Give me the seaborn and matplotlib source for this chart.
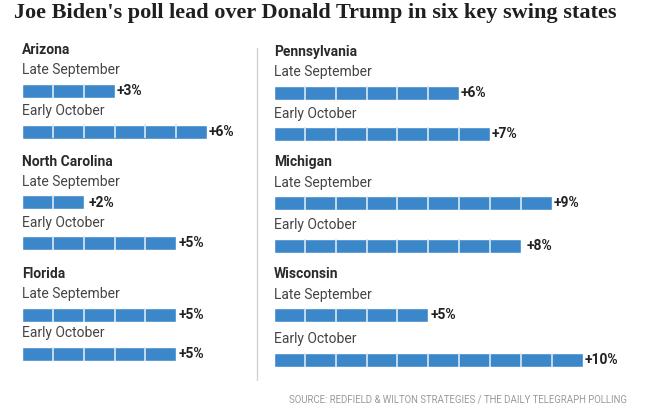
import matplotlib
matplotlib.use("Agg")
import matplotlib.pyplot as plt
from matplotlib.lines import Line2D
import seaborn as sns
import pandas as pd

# ---- data ----
title = "Joe Biden's poll lead over Donald Trump in six key swing states"
states = ["Arizona", "North Carolina", "Florida", "Pennsylvania", "Michigan", "Wisconsin"]
periods = ["Late September", "Early October"]
late_september = [3, 2, 5, 6, 9, 5]
early_october = [6, 5, 5, 7, 8, 10]
source = "SOURCE: REDFIELD & WILTON STRATEGIES / THE DAILY TELEGRAPH POLLING"

# ---- style / layout (pixels) ----
W, H = 660, 419
BLUE = "#3b87c9"
UNIT = 30.85          # pixels per percentage point
AX_W = 345
BAR_H = 14
col_x = [22, 22, 22, 274, 274, 274]
late_y = [90.8, 202.5, 314.7, 92.8, 203.0, 315.3]
early_y = [131.5, 243.3, 354.0, 134.0, 245.5, 359.5]
value_pad = [2, 5, 2, 2, 2, 2]
value_pad2 = [2, 2, 2, 2, 6, 2]

sns.set_theme(style="white")
plt.rcParams["font.family"] = ["Roboto", "DejaVu Sans"]

fig = plt.figure(figsize=(W / 100, H / 100), dpi=100)
fig.patch.set_facecolor("white")

for k, state in enumerate(states):
    gap = early_y[k] - late_y[k]
    top = late_y[k] - gap / 2
    height = 2 * gap
    ax = fig.add_axes([col_x[k] / W, 1 - (top + height) / H, AX_W / W, height / H])
    df = pd.DataFrame({"period": periods,
                       "lead": [late_september[k], early_october[k]]})
    bw = BAR_H / gap
    sns.barplot(data=df, x="lead", y="period", order=periods, orient="h",
                color=BLUE, saturation=1, width=bw, ax=ax)
    ax.set_xlim(0, AX_W / UNIT)
    ax.set_ylim(1.5, -0.5)
    ax.set_axis_off()
    for i, v in enumerate(df["lead"]):
        if v > 1:
            ax.vlines(list(range(1, v)), i - bw / 2, i + bw / 2,
                      color="#dce8f4", lw=1.2)
        pad = value_pad[k] if i == 0 else value_pad2[k]
        ax.annotate(f"+{v}%", xy=(v, i), xytext=(pad, 0), textcoords="offset pixels",
                    va="center", ha="left", fontsize=10, fontweight="bold",
                    color="#222222", annotation_clip=False)
        ax.annotate(periods[i], xy=(0, i), xytext=(0, 20.5), textcoords="offset pixels",
                    va="center", ha="left", fontsize=10, color="#444444",
                    annotation_clip=False)
    ax.annotate(state, xy=(0, 0), xytext=(0, 41), textcoords="offset pixels",
                va="center", ha="left", fontsize=10, fontweight="bold",
                color="#2a2a2a", annotation_clip=False)

# divider
fig.add_artist(Line2D([256.7 / W, 256.7 / W], [1 - 48 / H, 1 - 380 / H],
                      color="#d4d4d4", lw=1))

fig.text(14 / W, 1 - 13 / H, title, va="center", ha="left",
         family=["Liberation Serif", "DejaVu Serif"], fontweight="bold",
         fontsize=16, color="#1f1f1f")
fig.text(627 / W, 1 - 399 / H, source, va="center", ha="right",
         fontsize=6.9, color="#9a9a9a")

fig.savefig("out.png", dpi=100, facecolor="white")
